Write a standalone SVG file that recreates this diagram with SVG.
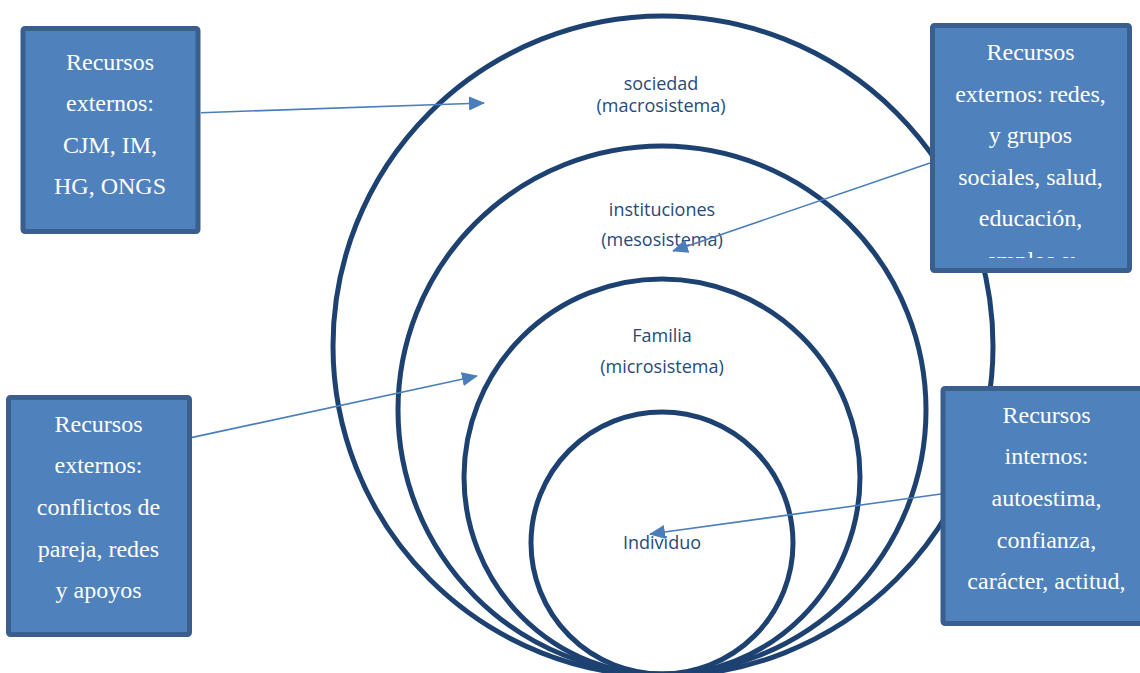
<svg xmlns="http://www.w3.org/2000/svg" width="1140" height="673" viewBox="0 0 1140 673">
  <style>
    .ring { fill: none; stroke: #1d4272; stroke-width: 5; }
    .lbl { font-family: "Open Sans", "Liberation Sans", sans-serif; font-size: 18px; fill: #264a7a; text-anchor: middle; }
    .box { fill: #4f81bd; stroke: #3a5f8e; stroke-width: 5; }
    .btxt { font-family: "Liberation Serif", "Times New Roman", serif; font-size: 24px; fill: #ffffff; text-anchor: middle; }
    .conn { fill: none; stroke: #4a7ebb; stroke-width: 1.6; marker-end: url(#arrow); }
  </style>
  <defs>
    <marker id="arrow" markerUnits="userSpaceOnUse" markerWidth="16" markerHeight="14" viewBox="0 0 16 14" refX="15" refY="7" orient="auto">
      <path d="M0,0 L16,7 L0,14 Z" fill="#4a7ebb"/>
    </marker>
    <clipPath id="clip2">
      <rect x="935" y="28" width="192" height="230"/>
    </clipPath>
  </defs>
  <rect width="1140" height="673" fill="#ffffff"/>

  <g id="sociedad">
    <circle class="ring" cx="663" cy="346" r="330"/>
    <text class="lbl" x="661" y="90">sociedad</text>
    <text class="lbl" x="661" y="112">(macrosistema)</text>
  </g>
  <g id="instituciones">
    <circle class="ring" cx="662" cy="410" r="264"/>
    <text class="lbl" x="662" y="216">instituciones</text>
    <text class="lbl" x="662" y="246">(mesosistema)</text>
  </g>
  <g id="familia">
    <circle class="ring" cx="662" cy="477" r="198"/>
    <text class="lbl" x="662" y="342">Familia</text>
    <text class="lbl" x="662" y="373">(microsistema)</text>
  </g>
  <g id="individuo">
    <circle class="ring" cx="662" cy="543" r="131"/>
    <text class="lbl" x="662" y="549">Individuo</text>
  </g>

  <g id="connectors">
    <path class="conn" d="M201,112.7 L484,103"/>
    <path class="conn" d="M930,163 L673,251"/>
    <path class="conn" d="M190,437.9 L477,376"/>
    <path class="conn" d="M941,494 L650,534"/>
  </g>

  <g id="box-externos-cjm">
    <rect class="box" x="23" y="28.5" width="175" height="203" rx="2"/>
    <text class="btxt" x="110" y="70">Recursos</text>
    <text class="btxt" x="110" y="111">externos:</text>
    <text class="btxt" x="110" y="153">CJM, IM,</text>
    <text class="btxt" x="110" y="194">HG, ONGS</text>
  </g>
  <g id="box-externos-redes">
    <rect class="box" x="932.5" y="25.5" width="197" height="245" rx="2"/>
    <g clip-path="url(#clip2)">
      <text class="btxt" x="1030.5" y="60">Recursos</text>
      <text class="btxt" x="1030.5" y="102">externos: redes,</text>
      <text class="btxt" x="1030.5" y="143">y grupos</text>
      <text class="btxt" x="1030.5" y="185">sociales, salud,</text>
      <text class="btxt" x="1030.5" y="226">educación,</text>
      <text class="btxt" x="1030.5" y="268">empleo y</text>
    </g>
  </g>
  <g id="box-externos-conflictos">
    <rect class="box" x="8.5" y="397.5" width="181" height="237" rx="2"/>
    <text class="btxt" x="98.5" y="432">Recursos</text>
    <text class="btxt" x="98.5" y="473">externos:</text>
    <text class="btxt" x="98.5" y="515">conflictos de</text>
    <text class="btxt" x="98.5" y="557">pareja, redes</text>
    <text class="btxt" x="98.5" y="598">y apoyos</text>
  </g>
  <g id="box-internos">
    <rect class="box" x="943" y="388.5" width="205" height="235" rx="2"/>
    <text class="btxt" x="1046.5" y="423">Recursos</text>
    <text class="btxt" x="1046.5" y="464">internos:</text>
    <text class="btxt" x="1046.5" y="506">autoestima,</text>
    <text class="btxt" x="1046.5" y="548">confianza,</text>
    <text class="btxt" x="1046.5" y="589">carácter, actitud,</text>
  </g>
</svg>
